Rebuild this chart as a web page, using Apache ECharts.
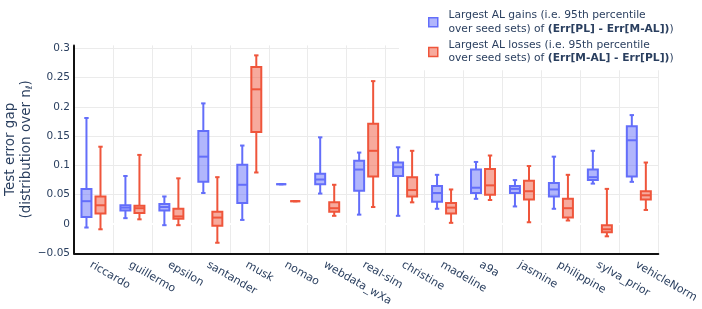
<!DOCTYPE html>
<html>
<head>
<meta charset="utf-8">
<script src="https://cdn.jsdelivr.net/npm/echarts@6/dist/echarts.min.js"></script>
<style>html,body{margin:0;padding:0;background:#fff}#c{width:702px;height:309px}</style>
</head>
<body>
<div id="c"></div>
<script>
// Categories (datasets)
const categories = ['riccardo','guillermo','epsilon','santander','musk','nomao','webdata_wXa','real-sim','christine','madeline','a9a','jasmine','philippine','sylva_prior','vehicleNorm'];
// [min, q1, median, q3, max] per dataset, largest AL gains
const gains = [
  [-0.006, 0.012, 0.039, 0.060, 0.181],
  [0.010, 0.023, 0.028, 0.032, 0.082],
  [-0.002, 0.023, 0.029, 0.034, 0.047],
  [0.053, 0.072, 0.115, 0.159, 0.206],
  [0.007, 0.036, 0.067, 0.101, 0.134],
  [0.068, 0.068, 0.068, 0.068, 0.068],
  [0.052, 0.068, 0.076, 0.086, 0.148],
  [0.016, 0.057, 0.093, 0.108, 0.122],
  [0.014, 0.082, 0.097, 0.105, 0.131],
  [0.026, 0.038, 0.053, 0.065, 0.084],
  [0.043, 0.053, 0.062, 0.093, 0.106],
  [0.030, 0.053, 0.060, 0.065, 0.075],
  [0.026, 0.047, 0.059, 0.070, 0.115],
  [0.069, 0.075, 0.080, 0.093, 0.125],
  [0.072, 0.081, 0.143, 0.167, 0.186]
];
// [min, q1, median, q3, max] per dataset, largest AL losses
const losses = [
  [-0.009, 0.018, 0.032, 0.047, 0.132],
  [0.008, 0.019, 0.027, 0.031, 0.118],
  [-0.002, 0.009, 0.013, 0.026, 0.078],
  [-0.032, -0.003, 0.011, 0.021, 0.080],
  [0.088, 0.157, 0.230, 0.268, 0.288],
  [0.039, 0.039, 0.039, 0.039, 0.039],
  [0.014, 0.021, 0.027, 0.037, 0.067],
  [0.029, 0.081, 0.125, 0.171, 0.244],
  [0.037, 0.047, 0.058, 0.080, 0.125],
  [0.002, 0.018, 0.028, 0.036, 0.059],
  [0.041, 0.050, 0.066, 0.094, 0.117],
  [0.003, 0.042, 0.056, 0.074, 0.099],
  [0.006, 0.011, 0.027, 0.043, 0.084],
  [-0.021, -0.014, -0.009, -0.002, 0.060],
  [0.024, 0.042, 0.049, 0.056, 0.105]
];
const yTicks = [-0.05, 0, 0.05, 0.1, 0.15, 0.2, 0.25, 0.3];

const TXT = '#2a3f5f';
const FONT = 'DejaVu Sans';

function toData(stats){ return stats.map((s,i)=>[i].concat(s)); }

function makeRender(offFrac, line, fill){
  return function(params, api){
    const x = api.value(0);
    const band = api.size([1,0])[0];
    const off = offFrac*band, hw = 0.128*band, cw = 2.2;
    const pMin = api.coord([x, api.value(1)]);
    const pQ1 = api.coord([x, api.value(2)]);
    const pMed = api.coord([x, api.value(3)]);
    const pQ3 = api.coord([x, api.value(4)]);
    const pMax = api.coord([x, api.value(5)]);
    const cx = pMin[0] + off;
    const ls = {stroke: line, lineWidth: 2, fill: null};
    return {type:'group', children:[
      {type:'line', shape:{x1:cx,y1:pQ3[1],x2:cx,y2:pMax[1]}, style:ls},
      {type:'line', shape:{x1:cx,y1:pQ1[1],x2:cx,y2:pMin[1]}, style:ls},
      {type:'line', shape:{x1:cx-cw,y1:pMax[1],x2:cx+cw,y2:pMax[1]}, style:ls},
      {type:'line', shape:{x1:cx-cw,y1:pMin[1],x2:cx+cw,y2:pMin[1]}, style:ls},
      {type:'rect', shape:{x:cx-hw,y:pQ3[1],width:2*hw,height:pQ1[1]-pQ3[1]}, style:{fill:fill, stroke:line, lineWidth:2}},
      {type:'line', shape:{x1:cx-hw,y1:pMed[1],x2:cx+hw,y2:pMed[1]}, style:ls}
    ]};
  };
}

function zeroRender(params, api){
  const cs = params.coordSys;
  const p = api.coord([0, api.value(1)]);
  return {type:'line', shape:{x1:cs.x+1, y1:p[1], x2:cs.x+cs.width, y2:p[1]}, style:{stroke:'#fff', lineWidth:2}};
}

const BLUE = '#636efa', BLUEF = 'rgba(99,110,250,0.5)';
const RED = '#ef553b', REDF = 'rgba(239,85,59,0.5)';

const chart = echarts.init(document.getElementById('c'));
chart.setOption({
  animation: false,
  backgroundColor: '#fff',
  textStyle: {fontFamily: FONT},
  grid: {left: 74, right: 43.7, top: 45.4, bottom: 55.7, containLabel: false, outerBoundsMode: 'none'},
  legend: {
    orient: 'vertical', left: 399, top: 4,
    padding: [5, 6, 5, 29],
    backgroundColor: '#fff',
    itemWidth: 9, itemHeight: 9, itemGap: 3,
    icon: 'rect',
    data: [
      {name: 'gains', itemStyle: {color: BLUEF, borderColor: BLUE, borderWidth: 1.5}},
      {name: 'losses', itemStyle: {color: REDF, borderColor: RED, borderWidth: 1.5}}
    ],
    formatter: function(n){
      if (n === 'gains') return 'Largest AL gains (i.e. 95th percentile\nover seed sets) of {b|(Err[PL] - Err[M-AL])})';
      return 'Largest AL losses (i.e. 95th percentile\nover seed sets) of {b|(Err[M-AL] - Err[PL])})';
    },
    textStyle: {color: TXT, fontSize: 10.7, fontFamily: FONT, lineHeight: 13.3, padding: [0,0,0,5.7],
      rich: {b: {fontWeight: 'bold', color: TXT, fontSize: 10.7, fontFamily: FONT, lineHeight: 13.3}}}
  },
  xAxis: {
    type: 'category', data: categories,
    axisLine: {show: true, onZero: false, lineStyle: {color: '#111', width: 2}},
    axisTick: {show: false},
    splitLine: {show: true, interval: 0, lineStyle: {color: '#ebebeb', width: 1}},
    axisLabel: {interval: 0, rotate: -30, margin: 6, verticalAlign: 'top', color: TXT, fontSize: 11, fontFamily: FONT},
    boundaryGap: true
  },
  yAxis: {
    type: 'value', min: -0.05, max: 0.305, interval: 0.05,
    axisLine: {show: true, onZero: false, lineStyle: {color: '#111', width: 2}},
    axisTick: {show: false},
    splitLine: {show: true, showMaxLine: false, lineStyle: {color: '#ebebeb', width: 1}},
    axisLabel: {showMaxLabel: false, margin: 4, color: TXT, fontSize: 10.5, fontFamily: FONT,
      formatter: function(v){
        const t = yTicks.find(k => Math.abs(k - v) < 1e-9);
        return t === undefined ? '' : String(t).replace('-', '\u2212');
      }},
    name: 'Test error gap\n(distribution over n{s|ℓ})',
    nameLocation: 'middle', nameGap: 39, nameMoveOverlap: false,
    nameTextStyle: {color: TXT, fontSize: 13.5, fontFamily: FONT, lineHeight: 16.5,
      rich: {s: {fontSize: 9, color: TXT, fontFamily: FONT, lineHeight: 16.5, padding: [5,0,0,0]}}}
  },
  series: [
    {type: 'custom', name: 'zero', data: [[0, 0]], renderItem: zeroRender, silent: true, z: 1,
      encode: {x: 0, y: 1}},
    {type: 'custom', name: 'gains', data: toData(gains), renderItem: makeRender(-0.18, BLUE, BLUEF),
      encode: {x: 0, y: [1,2,3,4,5]}, itemStyle: {color: BLUEF, borderColor: BLUE}, z: 3},
    {type: 'custom', name: 'losses', data: toData(losses), renderItem: makeRender(0.18, RED, REDF),
      encode: {x: 0, y: [1,2,3,4,5]}, itemStyle: {color: REDF, borderColor: RED}, z: 3}
  ]
});
</script>
</body>
</html>
